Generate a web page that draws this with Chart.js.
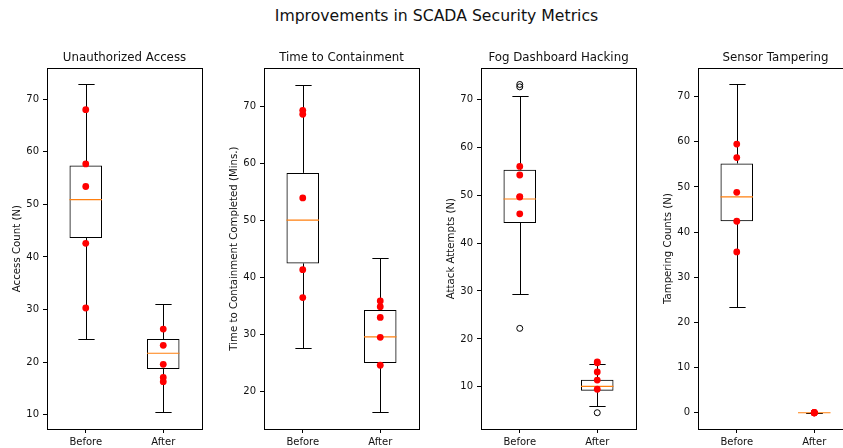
<!DOCTYPE html>
<html>
<head>
<meta charset="utf-8">
<script src="https://cdn.jsdelivr.net/npm/chart.js@4/dist/chart.umd.min.js"></script>
<style>
  html, body { margin: 0; padding: 0; background: #fff; overflow: hidden; }
  #wrap { position: relative; width: 843px; height: 448px; overflow: hidden; }
  #suptitle {
    position: absolute; left: 0; top: 6px; width: 873px; line-height: 20px;
    text-align: center; font-family: "DejaVu Sans", sans-serif; font-size: 15.7px; color: #111;
  }
  canvas { position: absolute; }
</style>
</head>
<body>
<div id="wrap">
  <div id="suptitle">Improvements in SCADA Security Metrics</div>
</div>
<script>
const groups = ['Before', 'After'];
const panelTitles = ['Unauthorized Access', 'Time to Containment', 'Fog Dashboard Hacking', 'Sensor Tampering'];
const yTitles = ['Access Count (N)', 'Time to Containment Completed (Mins.)', 'Attack Attempts (N)', 'Tampering Counts (N)'];

// box stats per panel: [Before, After]
const whiskerLow  = [[24.5, 10.5], [27.7, 16.3], [29.3, 6.1], [23.4, 0]];
const quart1      = [[43.6, 18.7], [42.5, 25.0], [44.2, 9.2], [42.4, 0]];
const medians     = [[50.9, 21.7], [50.1, 29.6], [49.2, 10.1], [47.8, 0]];
const quart3      = [[57.4, 24.4], [58.4, 34.3], [55.3, 11.5], [55.2, 0]];
const whiskerHigh = [[72.8, 31.0], [73.9, 43.4], [70.6, 14.7], [72.7, 0]];
const outliers = [
  [[], []],
  [[], []],
  [[73.1, 72.6, 22.2], [4.6]],
  [[], []]
];

// red sample points
const pointsBefore = [
  [68.0, 57.7, 53.4, 42.6, 30.3],
  [69.4, 68.7, 54.0, 41.4, 36.5],
  [56.0, 54.2, 49.7, 46.1, 49.6],
  [59.5, 56.5, 48.8, 42.4, 35.6]
];
const pointsAfter = [
  [26.3, 23.2, 19.6, 17.1, 16.3],
  [35.9, 34.9, 33.0, 29.5, 24.6],
  [15.2, 15.0, 13.1, 11.4, 9.5],
  [0, 0, 0, 0, 0]
];

const yMin = [7.3, 13.4, 1.2, -3.6];
const yMax = [75.9, 76.8, 76.5, 76.3];
const yTicks = [
  [10, 20, 30, 40, 50, 60, 70],
  [20, 30, 40, 50, 60, 70],
  [10, 20, 30, 40, 50, 60, 70],
  [0, 10, 20, 30, 40, 50, 60, 70]
];

const FONT = '"DejaVu Sans", sans-serif';
const frameLefts = [47, 264, 481, 698];
const wrap = document.getElementById('wrap');

function makePanel(i) {
  // canvas is symmetric around the plot frame so the title centres over it
  const canvas = document.createElement('canvas');
  canvas.width = 249;
  canvas.height = 408;
  canvas.style.left = (frameLefts[i] - 47) + 'px';
  canvas.style.top = '40px';
  canvas.style.width = '249px';
  canvas.style.height = '408px';
  wrap.appendChild(canvas);

  const line = (ctx, x1, y1, x2, y2) => {
    ctx.beginPath();
    ctx.moveTo(x1, y1);
    ctx.lineTo(x2, y2);
    ctx.stroke();
  };

  const boxParts = {
    id: 'boxParts',
    afterDatasetDraw(chart, args) {
      if (args.index !== 0) return;
      const ctx = chart.ctx;
      const y = chart.scales.y;
      const meta = chart.getDatasetMeta(0);
      ctx.save();
      meta.data.forEach((bar, j) => {
        const cx = Math.round(bar.x) + 0.5;
        const half = bar.width / 2;
        const yl = Math.round(y.getPixelForValue(whiskerLow[i][j])) + 0.5;
        const yq1 = y.getPixelForValue(quart1[i][j]);
        const yq3 = y.getPixelForValue(quart3[i][j]);
        const yh = Math.round(y.getPixelForValue(whiskerHigh[i][j])) + 0.5;
        const ym = y.getPixelForValue(medians[i][j]);
        ctx.strokeStyle = '#000';
        ctx.lineWidth = 1;
        line(ctx, cx, yq3, cx, yh);
        line(ctx, cx, yq1, cx, yl);
        line(ctx, cx - half / 2, yh, cx + half / 2, yh);
        line(ctx, cx - half / 2, yl, cx + half / 2, yl);
        ctx.strokeStyle = '#ff7f0e';
        ctx.lineWidth = 1.2;
        line(ctx, bar.x - half, ym, bar.x + half, ym);
      });
      ctx.restore();
    },
    afterDraw(chart) {
      const a = chart.chartArea;
      const ctx = chart.ctx;
      ctx.save();
      ctx.strokeStyle = '#000';
      ctx.lineWidth = 1;
      ctx.strokeRect(Math.round(a.left) + 0.5, Math.round(a.top) + 0.5,
        Math.round(a.right - a.left), Math.round(a.bottom - a.top));
      ctx.restore();
    }
  };

  const toPoints = (vals, g) => vals.map(v => ({ x: g, y: v }));

  new Chart(canvas.getContext('2d'), {
    type: 'bar',
    data: {
      labels: groups,
      datasets: [
        {
          type: 'bar',
          data: groups.map((g, j) => [quart1[i][j], quart3[i][j]]),
          backgroundColor: 'rgba(0,0,0,0)',
          borderColor: '#000',
          borderWidth: 1,
          borderSkipped: false,
          barPercentage: 0.42,
          categoryPercentage: 1,
          order: 3
        },
        {
          type: 'line',
          data: toPoints(outliers[i][0], 'Before').concat(toPoints(outliers[i][1], 'After')),
          showLine: false,
          pointRadius: 3,
          pointBackgroundColor: 'rgba(0,0,0,0)',
          pointBorderColor: '#000',
          pointBorderWidth: 1,
          order: 1
        },
        {
          type: 'line',
          data: toPoints(pointsBefore[i], 'Before').concat(toPoints(pointsAfter[i], 'After')),
          showLine: false,
          pointRadius: 3.4,
          pointBackgroundColor: '#ff0000',
          pointBorderColor: '#ff0000',
          pointBorderWidth: 0,
          order: 0
        }
      ]
    },
    options: {
      responsive: false,
      animation: false,
      layout: { padding: 0 },
      plugins: {
        legend: { display: false },
        tooltip: { enabled: false },
        title: {
          display: true,
          text: panelTitles[i],
          color: '#111',
          font: { family: FONT, size: 11.8, weight: 'normal' },
          padding: { top: 11, bottom: 3 }
        }
      },
      scales: {
        x: {
          type: 'category',
          offset: true,
          grid: { display: true, offset: false, drawOnChartArea: false, drawTicks: true, tickLength: 4, color: '#000' },
          border: { display: false },
          ticks: { color: '#111', padding: 3, font: { family: FONT, size: 10 } },
          afterFit: s => { s.height = 19; }
        },
        y: {
          type: 'linear',
          min: yMin[i],
          max: yMax[i],
          afterBuildTicks: s => { s.ticks = yTicks[i].map(v => ({ value: v })); },
          grid: { display: true, drawOnChartArea: false, drawTicks: true, tickLength: 4, color: '#000' },
          border: { display: false },
          ticks: { color: '#111', padding: 4, font: { family: FONT, size: 10 } },
          title: {
            display: true,
            text: yTitles[i],
            color: '#111',
            font: { family: FONT, size: 10.2 },
            padding: { top: 11, bottom: 0 }
          },
          afterFit: s => { s.width = 47; }
        },
        // empty right-hand spacer so the panel title centres over the frame
        spacer: {
          type: 'linear',
          position: 'right',
          display: true,
          grid: { display: false },
          border: { display: false },
          ticks: { display: false },
          afterFit: s => { s.width = 47; }
        }
      }
    },
    plugins: [boxParts]
  });
}

for (let i = 0; i < 4; i++) makePanel(i);
</script>
</body>
</html>
